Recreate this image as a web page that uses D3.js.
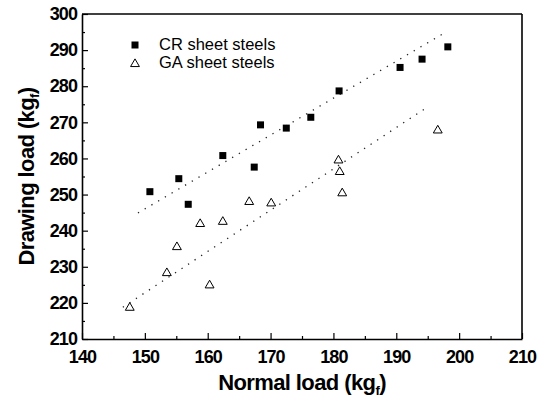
<!DOCTYPE html>
<html>
<head>
<meta charset="utf-8">
<script src="https://cdn.jsdelivr.net/npm/d3@7"></script>
<style>
  body { margin: 0; background: #fff; }
  text { font-family: "Liberation Sans", Arial, sans-serif; }
</style>
</head>
<body>
<div id="chart"></div>
<script>
// CR sheet steels (filled squares)
var cr_normal = [150.8, 155.4, 156.9, 162.4, 167.4, 168.4, 172.5, 176.4, 180.9, 190.6, 194.1, 198.2];
var cr_drawing = [250.8, 254.4, 247.3, 260.8, 257.6, 269.3, 268.4, 271.4, 278.7, 285.2, 287.5, 290.9];
// GA sheet steels (open triangles)
var ga_normal = [147.6, 153.5, 155.1, 158.8, 160.3, 162.4, 166.6, 170.1, 180.8, 181.0, 181.4, 196.6];
var ga_drawing = [218.8, 228.4, 235.6, 242.0, 225.0, 242.6, 248.1, 247.7, 259.6, 256.4, 250.5, 267.9];
// dotted fit lines, end points
var cr_fit_x = [148.9, 197.9];
var cr_fit_y = [244.9, 295.0];
var ga_fit_x = [146.5, 195.2];
var ga_fit_y = [218.8, 274.5];

var x_ticks = [140, 150, 160, 170, 180, 190, 200, 210];
var y_ticks = [210, 220, 230, 240, 250, 260, 270, 280, 290, 300];
var series_names = ["CR sheet steels", "GA sheet steels"];

var margin = {top: 14, right: 25, bottom: 66, left: 82};
var width = 547 - margin.left - margin.right,
  height = 405 - margin.top - margin.bottom;

var svg = d3.select("#chart").append("svg")
  .attr("width", 547)
  .attr("height", 405)
  .append("g")
  .attr("transform", "translate(" + margin.left + "," + margin.top + ")");

var x = d3.scaleLinear().domain([140, 210]).range([0, width]);
var y = d3.scaleLinear().domain([210, 300]).range([height, 0]);

// minor ticks (every 5), inside
var x_minor = d3.range(145, 210, 10);
var y_minor = d3.range(215, 300, 10);

var xAxis = svg.append("g")
  .attr("transform", "translate(0," + height + ")")
  .call(d3.axisBottom(x).tickValues(x_ticks).tickSizeInner(-6).tickSizeOuter(0).tickPadding(9));
svg.append("g")
  .attr("transform", "translate(0," + height + ")")
  .call(d3.axisBottom(x).tickValues(x_minor).tickSize(-3).tickFormat(""))
  .select(".domain").remove();

var yAxis = svg.append("g")
  .call(d3.axisLeft(y).tickValues(y_ticks).tickSizeInner(-6).tickSizeOuter(0).tickPadding(5));
svg.append("g")
  .call(d3.axisLeft(y).tickValues(y_minor).tickSize(-3).tickFormat(""))
  .select(".domain").remove();

svg.selectAll(".tick line").attr("stroke", "#000").attr("stroke-width", 1.2);
svg.selectAll(".domain").attr("stroke", "#000").attr("stroke-width", 1.6);
svg.selectAll(".tick text")
  .style("font-size", "18px")
  .style("font-weight", "bold")
  .style("letter-spacing", "-0.9px")
  .attr("fill", "#000");
xAxis.selectAll(".tick text").attr("dy", "0.85em");

// frame top / right
svg.append("line").attr("x1", 0).attr("x2", width).attr("y1", 0).attr("y2", 0)
  .attr("stroke", "#000").attr("stroke-width", 1.6);
svg.append("line").attr("x1", width).attr("x2", width).attr("y1", 0).attr("y2", height)
  .attr("stroke", "#000").attr("stroke-width", 1.6);

// fit lines
function fit_line(xs, ys) {
  svg.append("line")
    .attr("x1", x(xs[0])).attr("y1", y(ys[0]))
    .attr("x2", x(xs[1])).attr("y2", y(ys[1]))
    .attr("stroke", "#222")
    .attr("stroke-width", 1.3)
    .attr("stroke-dasharray", "1.3,6.5");
}
fit_line(cr_fit_x, cr_fit_y);
fit_line(ga_fit_x, ga_fit_y);

var tri = d3.symbol().type(d3.symbolTriangle).size(34);

var cr_data = cr_normal.map(function(d, i) { return [d, cr_drawing[i]]; });
var ga_data = ga_normal.map(function(d, i) { return [d, ga_drawing[i]]; });

svg.selectAll(".cr").data(cr_data).enter().append("rect")
  .attr("x", function(d) { return x(d[0]) - 3.5; })
  .attr("y", function(d) { return y(d[1]) - 3.5; })
  .attr("width", 7)
  .attr("height", 7)
  .attr("fill", "#000");

svg.selectAll(".ga").data(ga_data).enter().append("path")
  .attr("d", tri)
  .attr("transform", function(d) { return "translate(" + x(d[0]) + "," + (y(d[1]) + 0.5) + ")"; })
  .attr("fill", "#fff")
  .attr("stroke", "#000")
  .attr("stroke-width", 1);

// legend
var legend = svg.append("g");
legend.append("rect")
  .attr("x", 135 - margin.left - 3.5).attr("y", 45 - margin.top - 3.5)
  .attr("width", 7).attr("height", 7).attr("fill", "#000");
legend.append("path")
  .attr("d", tri)
  .attr("transform", "translate(" + (135 - margin.left) + "," + (64 - margin.top) + ")")
  .attr("fill", "#fff").attr("stroke", "#000").attr("stroke-width", 1);
legend.selectAll(".lt").data(series_names).enter().append("text")
  .attr("x", 159 - margin.left)
  .attr("y", function(d, i) { return 50 - margin.top + i * 18; })
  .style("font-size", "16.5px")
  .text(function(d) { return d; });

// axis titles
var xt = svg.append("text")
  .attr("x", width / 2)
  .attr("y", 390 - margin.top)
  .attr("text-anchor", "middle")
  .style("font-size", "22px")
  .style("font-weight", "bold")
  .style("letter-spacing", "-0.6px");
xt.append("tspan").text("Normal load (kg");
xt.append("tspan").attr("dy", 5).style("font-size", "13px").text("f");
xt.append("tspan").attr("dy", -5).text(")");

var yt = svg.append("text")
  .attr("transform", "translate(" + (34 - margin.left) + "," + (height / 2) + ") rotate(-90)")
  .attr("text-anchor", "middle")
  .style("font-size", "22px")
  .style("font-weight", "bold")
  .style("letter-spacing", "-0.6px");
yt.append("tspan").text("Drawing load (kg");
yt.append("tspan").attr("dy", 5).style("font-size", "13px").text("f");
yt.append("tspan").attr("dy", -5).text(")");
</script>
</body>
</html>
